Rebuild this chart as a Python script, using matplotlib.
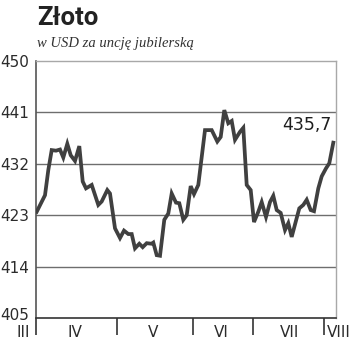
"""
Wykres notowań złota (USD za uncję) w okresie IV-VII.
"""

import matplotlib
matplotlib.use('Agg')
import matplotlib.pyplot as plt
import matplotlib.transforms as mtransforms

# Dane: pozycja sesji na osi (0-300) i kurs
pozycja = [0.7, 9, 12.3, 15.7, 20, 24, 27.3, 31.3, 34.7, 39, 43.3, 46.7, 50, 55.7,
           62.3, 65.7, 71.3, 74, 79, 84, 88, 92.3, 95.7, 99, 103.3, 106.7, 110.7,
           115.7, 117.3, 120.7, 124, 128.3, 132.3, 135.7, 140, 143.3, 147.3, 150.7,
           154.7, 158, 162.3, 169, 175.7, 181.3, 184.7, 188.3, 192.3, 195.7, 199,
           204, 207.3, 210.7, 214.7, 218, 222.3, 225.7, 230, 234, 237.3, 240.7,
           244.7, 249, 252.3, 255.7, 260.7, 263.3, 267.3, 270.7, 274.7, 278, 282.3,
           285.7, 290, 293.3, 297.3]
kurs = [423.6, 426.5, 430.9, 434.4, 434.3, 434.5, 433.1, 435.5, 433.5, 432.5, 435.1,
        428.9, 427.7, 428.3, 424.8, 425.4, 427.4, 426.8, 420.7, 419.0, 420.3, 419.7,
        419.7, 417.2, 418.0, 417.4, 418.1, 418.0, 418.2, 416.0, 415.9, 422.2, 423.3,
        426.8, 425.2, 425.1, 422.2, 423.0, 428.1, 426.7, 428.3, 437.9, 437.9, 435.9,
        436.7, 441.4, 439.1, 439.5, 436.2, 437.6, 438.3, 428.3, 427.4, 421.8, 423.6,
        425.3, 422.7, 425.3, 426.4, 423.9, 423.4, 420.4, 421.6, 419.2, 422.5, 424.2,
        424.8, 425.7, 423.9, 423.7, 427.7, 429.8, 431.2, 432.1, 435.7]

# Granice miesięcy i podpisy
granice_miesiecy = [0, 81, 157, 217, 288]
miesiace = ['III', 'IV', 'V', 'VI', 'VII', 'VIII']
pozycje_miesiecy = [-13, 39, 117.5, 185, 253.5, 302.5]
poziomy_y = [405, 414, 423, 432, 441, 450]

kolor_linii = '#404040'
kolor_tekstu = '#2b2b2b'


def rysuj_wykres(nazwa_pliku='out.png'):
    fig = plt.figure(figsize=(3.5, 3.51), dpi=100)
    ax = fig.add_axes([36 / 350, 33 / 351, 300 / 350, 257 / 351])

    # Linie siatki
    for poziom in poziomy_y[1:-1]:
        ax.axhline(poziom, color='#6e6e6e', lw=1.0, zorder=1)

    ax.plot(pozycja, kurs, color=kolor_linii, lw=2.7, solid_joinstyle='miter', zorder=3)

    ax.set_xlim(0, 300)
    ax.set_ylim(405, 450)
    ax.set_yticks(poziomy_y)
    ax.set_yticklabels([str(p) for p in poziomy_y], fontsize=11, color=kolor_tekstu)
    ax.tick_params(axis='y', length=0, pad=5)

    # Najniższy podpis lekko w górę, żeby nie nachodził na "III"
    etykieta_dolna = ax.get_yticklabels()[0]
    etykieta_dolna.set_transform(etykieta_dolna.get_transform() +
                                 mtransforms.ScaledTranslation(0, 3 / 72, fig.dpi_scale_trans))

    ax.set_xticks(granice_miesiecy)
    ax.set_xticklabels([])
    ax.tick_params(axis='x', direction='out', length=12.5, width=1.2, color='#333333')

    for spine in ['top', 'right']:
        ax.spines[spine].set_color('#a8a8a8')
        ax.spines[spine].set_linewidth(1.0)
    ax.spines['left'].set_color('#555555')
    ax.spines['left'].set_linewidth(1.2)
    ax.spines['bottom'].set_color('#333333')
    ax.spines['bottom'].set_linewidth(1.2)

    for nazwa, x in zip(miesiace, pozycje_miesiecy):
        ax.text(x, -0.058, nazwa, transform=ax.get_xaxis_transform(), ha='center', va='center',
                fontsize=11, color=kolor_tekstu, clip_on=False)

    # Ostatnia wartość
    ax.text(296, 438.8, '435,7', ha='right', va='center', fontsize=12.5, color='#1e1e1e')

    fig.text(37 / 350, 0.929, 'Złoto', fontsize=18.5, fontweight='bold', family='Roboto',
             color='#222222', ha='left', va='baseline')
    fig.text(37 / 350, 0.865, 'w USD za uncję jubilerską', fontsize=10.5, style='italic',
             family='Liberation Serif', color='#333333', ha='left', va='baseline')

    fig.savefig(nazwa_pliku, dpi=100)
    plt.close(fig)


if __name__ == "__main__":
    rysuj_wykres()
